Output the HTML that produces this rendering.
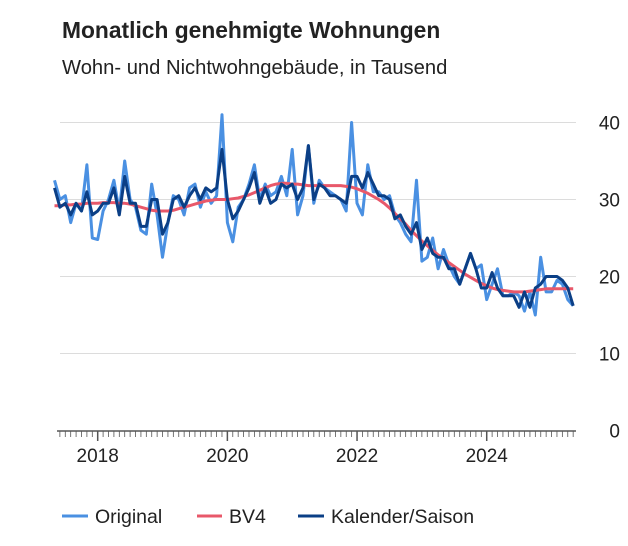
<!DOCTYPE html>
<html><head><meta charset="utf-8"><style>
body{margin:0;background:#fff;font-family:"Liberation Sans",Arial,sans-serif;color:#222}
#wrap{position:relative;width:628px;height:546px;overflow:hidden}
</style></head><body>
<div id="wrap">
<svg id="chart" width="628" height="546">
<text x="62" y="38" font-size="22.8" font-weight="bold" fill="#222">Monatlich genehmigte Wohnungen</text>
<text x="62" y="74" font-size="20.2" fill="#222">Wohn- und Nichtwohngebäude, in Tausend</text>
<g id="grid"></g><g id="series"></g><g id="xaxis"></g>
<g>
<g><line x1="62" y1="516" x2="88" y2="516" stroke="#4a90e2" stroke-width="3"/><text x="95" y="523" font-size="19.5" fill="#222">Original</text></g>
<g><line x1="197" y1="516" x2="222" y2="516" stroke="#e8586a" stroke-width="3"/><text x="229" y="523" font-size="19.5" fill="#222">BV4</text></g>
<g><line x1="298" y1="516" x2="324" y2="516" stroke="#0b3f86" stroke-width="3"/><text x="331" y="523" font-size="19.5" fill="#222">Kalender/Saison</text></g>
</g>
</svg></div>
<script>
const startYear = 2017, startMonth = 4; // May 2017 (0-based month)
const yTicks = [0,10,20,30,40];
const xYears = [2018,2020,2022,2024];
const original = [32.5,30,30.5,27,29.5,28.5,34.5,
25,24.8,28.5,30,32.5,28.5,35,30,29,26,25.5,32,
28,22.5,27,30.5,30,28,31.5,32,29,31,29.5,30.5,
41,27,24.5,29,30,32,34.5,30,32,30.5,31,33,
30.5,36.5,28,30.5,37,29.5,32.5,31.5,31,30.5,30,28.5,
40,29.5,28,34.5,31,31,30,30.5,28,27,25.5,24.5,
32.5,22,22.5,25,21,23.5,21.5,20,19,21,23,21,
21.5,17,19,21,17.5,17.5,18,17.5,15.5,18,15,22.5,
18,18,19.5,19,17,16.2];
const kalender = [31.5,29,29.5,28,29.5,28.5,31,
28,28.5,29.5,29.5,31.5,28,33,29.5,29.5,26.5,26.5,30,
30,25.5,27,30,30.5,29,30.5,31.5,30,31.5,31,31.5,
36.5,30,27.5,28.5,30,31.5,33.5,29.5,31.5,29.5,30,32,
31.5,32,30,31.5,37,30,32,31.5,30.5,30.5,30,29.5,
33,33,31.5,33.5,32,30.5,30.5,30,27.5,28,26.5,25.5,
27,23.5,25,23,22.5,22.5,21,21,19,21,23,21,
18.5,18.5,20.5,18.5,17.5,17.5,17.5,16,18,16,18.5,19,
20,20,20,19.5,18.5,16.2];
const bv4 = [29.2,29.2,29.3,29.3,29.4,29.4,29.5,
29.5,29.5,29.6,29.6,29.6,29.5,29.5,29.4,29.2,29,28.8,28.6,
28.5,28.5,28.5,28.6,28.8,29,29.2,29.4,29.6,29.8,29.9,30,
30,30,30.1,30.2,30.4,30.6,30.9,31.2,31.5,31.8,32,32.1,
32.1,32,32,31.9,31.8,31.8,31.8,31.8,31.8,31.8,31.8,31.7,
31.6,31.4,31.1,30.8,30.4,30,29.5,28.9,28.2,27.5,26.8,26,
25.3,24.6,24,23.4,22.8,22.3,21.8,21.3,20.8,20.3,19.9,19.5,
19.1,18.8,18.5,18.3,18.2,18.1,18,18,18,18.1,18.2,18.3,
18.4,18.4,18.4,18.4,18.4,18.4];

const NS="http://www.w3.org/2000/svg";
const x0=97.7, pxMonth=5.403; // x of Jan 2018
function xScale(monthsFrom2018){return x0+monthsFrom2018*pxMonth;}
function yScale(v){return 430.5-v*7.7;}
function idxToMonth(i){return (startYear-2018)*12+startMonth+i;}
function mk(tag,attrs,parent){const e=document.createElementNS(NS,tag);for(const k in attrs)e.setAttribute(k,attrs[k]);parent.appendChild(e);return e;}

const grid=document.getElementById('grid');
yTicks.forEach(t=>{
  if(t>0){const l=mk('line',{x1:60,x2:576,y1:yScale(t),y2:yScale(t),stroke:'#dcdcdc','stroke-width':1},grid);
  
  }
  const tx=mk('text',{x:620,y:yScale(t)+7,'font-size':19,'text-anchor':'end',fill:'#222'},grid);
  tx.textContent=t;
  
  
});

const xa=document.getElementById('xaxis');
const axis=mk('line',{x1:57,x2:576,y1:431,y2:431,stroke:'#333','stroke-width':1.2},xa);


for(let m=-7;m<=(2025-2018)*12+4;m++){
  const x=xScale(m);
  const major=(m%24===0);
  const t=mk('line',{x1:x,x2:x,y1:431,y2:major?441:437,stroke:'#555','stroke-width':major?1.5:0.8},xa);
  
  
}
xYears.forEach(y=>{
  const tx=mk('text',{x:xScale((y-2018)*12),y:462,'font-size':19,'text-anchor':'middle',fill:'#222'},xa);
  tx.textContent=y;
  
  
});

const sg=document.getElementById('series');
function path(arr,color,w,name){
  const d=arr.map((v,i)=>(i?'L':'M')+xScale(idxToMonth(i)).toFixed(1)+','+yScale(v).toFixed(1)).join(' ');
  const p=mk('path',{d:d,fill:'none',stroke:color,'stroke-width':w,'stroke-linejoin':'round'},sg);
  
  
}
path(original,'#4a90e2',3,'series-original-line');
path(bv4,'#e8586a',3,'series-bv4-line');
path(kalender,'#0b3f86',3,'series-kalender-saison-line');
</script>
</body></html>
